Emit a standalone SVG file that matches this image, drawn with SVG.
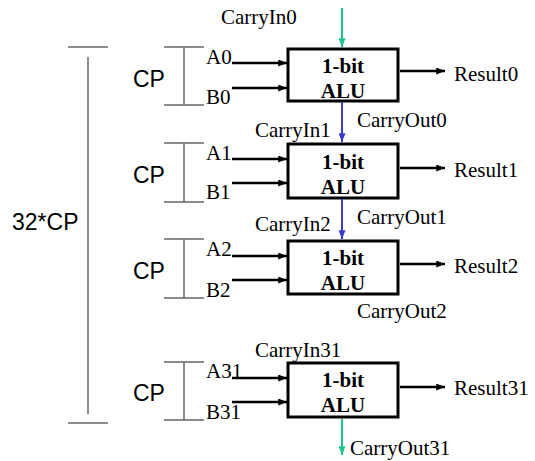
<svg xmlns="http://www.w3.org/2000/svg" width="535" height="461" viewBox="0 0 535 461">
<style>
.t{font-family:"Liberation Serif","Times New Roman",serif;font-size:21px;fill:#000}
.b{font-family:"Liberation Serif","Times New Roman",serif;font-size:21px;font-weight:bold;fill:#000;text-anchor:middle}
.s{font-family:"Liberation Sans",Arial,sans-serif;font-size:23px;fill:#000}
.box{fill:#fff;stroke:#000;stroke-width:3}
.br{stroke:#666;stroke-width:1.5;fill:none}
.in{stroke:#000;stroke-width:2.5;fill:none;marker-end:url(#ak)}
.g{stroke:#1ac48c;stroke-width:2;fill:none;marker-end:url(#ag)}
.bl{stroke:#3a3ad0;stroke-width:2;fill:none;marker-end:url(#ab)}
</style>
<defs>
<marker id="ak" viewBox="0 0 10 8" refX="10" refY="4" markerWidth="10" markerHeight="7" markerUnits="userSpaceOnUse" orient="auto"><path d="M0,0 L10,4 L0,8 z" fill="#000"/></marker>
<marker id="ag" viewBox="0 0 10 8" refX="10" refY="4" markerWidth="10" markerHeight="7" markerUnits="userSpaceOnUse" orient="auto"><path d="M0,0 L10,4 L0,8 z" fill="#1ac48c"/></marker>
<marker id="ab" viewBox="0 0 10 8" refX="10" refY="4" markerWidth="10" markerHeight="7" markerUnits="userSpaceOnUse" orient="auto"><path d="M0,0 L10,4 L0,8 z" fill="#3a3ad0"/></marker>
</defs>
<rect width="535" height="461" fill="#fff"/>

<g id="bracket32">
<path class="br" d="M68,47 H108 M88,57 V414 M68,423 H108"/>
<text class="s" x="12" y="230">32*CP</text>
</g>

<g id="cp0"><path class="br" d="M164,47 H204 M184,47 V105 M164,105 H204"/><text class="s" x="133" y="87">CP</text></g>
<g id="cp1"><path class="br" d="M164,143 H204 M184,143 V202 M164,202 H204"/><text class="s" x="133" y="183">CP</text></g>
<g id="cp2"><path class="br" d="M164,239 H204 M184,239 V298 M164,298 H204"/><text class="s" x="133" y="279">CP</text></g>
<g id="cp31"><path class="br" d="M164,362 H204 M184,362 V420 M164,420 H204"/><text class="s" x="133" y="401">CP</text></g>

<g id="alu0">
<rect class="box" x="288" y="49" width="110" height="52"/>
<text class="b" x="343" y="73">1-bit</text><text class="b" x="343" y="98">ALU</text>
</g>
<g id="alu1">
<rect class="box" x="288" y="144" width="110" height="54"/>
<text class="b" x="343" y="169">1-bit</text><text class="b" x="343" y="194">ALU</text>
</g>
<g id="alu2">
<rect class="box" x="288" y="241" width="110" height="53"/>
<text class="b" x="343" y="265">1-bit</text><text class="b" x="343" y="290">ALU</text>
</g>
<g id="alu31">
<rect class="box" x="288" y="363" width="110" height="54"/>
<text class="b" x="343" y="387">1-bit</text><text class="b" x="343" y="412">ALU</text>
</g>

<g id="labels">
<text class="t" x="206" y="64">A0</text><text class="t" x="206" y="104">B0</text>
<text class="t" x="206" y="160">A1</text><text class="t" x="206" y="199">B1</text>
<text class="t" x="206" y="256">A2</text><text class="t" x="206" y="297">B2</text>
<text class="t" x="206" y="378">A31</text><text class="t" x="206" y="419">B31</text>
<text class="t" x="221" y="24">CarryIn0</text>
<text class="t" x="357" y="127">CarryOut0</text>
<text class="t" x="255" y="137">CarryIn1</text>
<text class="t" x="357" y="224">CarryOut1</text>
<text class="t" x="255" y="231">CarryIn2</text>
<text class="t" x="357" y="318">CarryOut2</text>
<text class="t" x="255" y="357">CarryIn31</text>
<text class="t" x="350" y="455">CarryOut31</text>
<text class="t" x="454" y="81">Result0</text>
<text class="t" x="454" y="177">Result1</text>
<text class="t" x="454" y="273">Result2</text>
<text class="t" x="454" y="395">Result31</text>
</g>

<g id="connectors">
<path class="in" d="M232,63 H287"/><path class="in" d="M232,88 H287"/>
<path class="in" d="M232,159 H287"/><path class="in" d="M232,183 H287"/>
<path class="in" d="M232,256 H287"/><path class="in" d="M232,280 H287"/>
<path class="in" d="M232,378 H287"/><path class="in" d="M232,402 H287"/>
<path class="in" d="M400,71 H445"/>
<path class="in" d="M400,168 H445"/>
<path class="in" d="M400,264 H445"/>
<path class="in" d="M400,387 H445"/>
<path class="g" d="M342,8 V47"/>
<path class="bl" d="M342,102 V142"/>
<path class="bl" d="M342,199 V239"/>
<path class="g" d="M342,419 V455"/>
</g>
</svg>
